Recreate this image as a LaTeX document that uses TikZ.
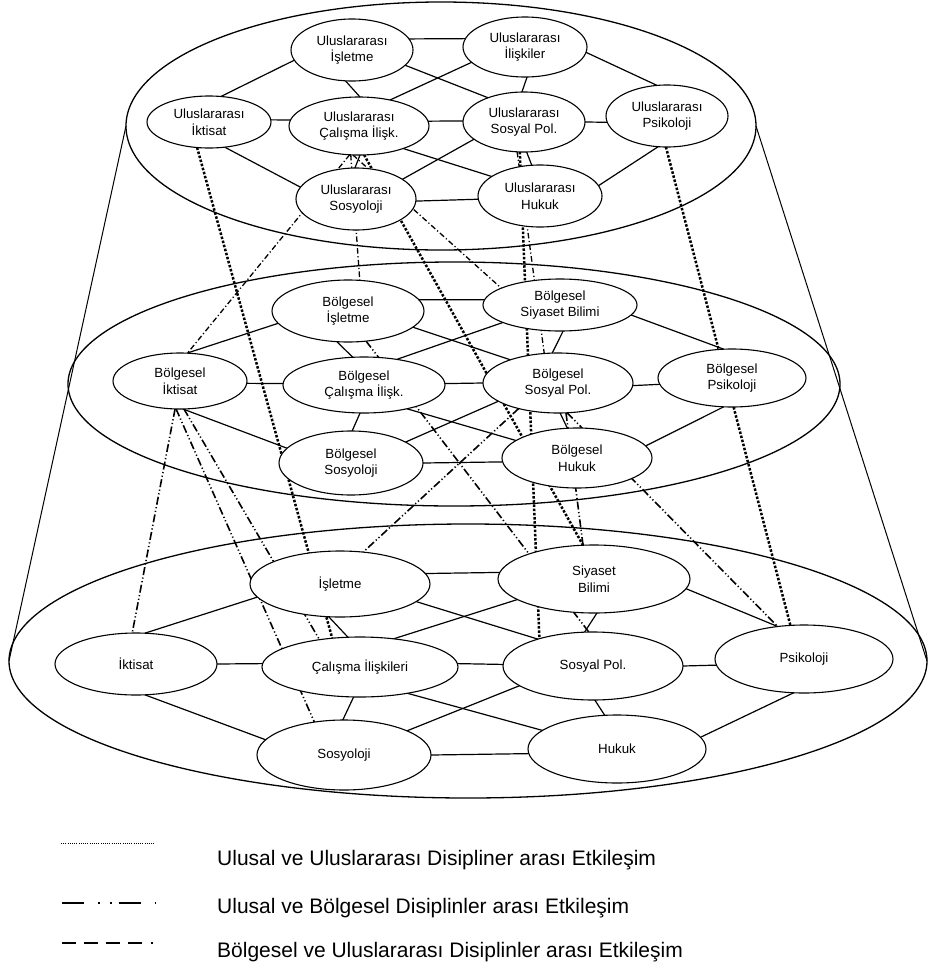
\documentclass[tikz,border=0pt]{standalone}
\usepackage{fontspec}
\setmainfont{Liberation Sans}
\usetikzlibrary{shapes.geometric,backgrounds}
\tikzset{
  disc/.style={draw, ellipse, fill=white, line width=1.1pt, inner sep=0pt, outer sep=0pt, align=center, font=\fontsize{13.3}{16.5}\selectfont},
  layer/.style={draw, ellipse, line width=1.3pt, inner sep=0pt, outer sep=0pt},
  cone/.style={line width=1pt},
  link/.style={line width=1.2pt},
  natint/.style={line width=2.5pt, dash pattern=on 2.5pt off 1.7pt},
  regint/.style={line width=1.3pt, dash pattern=on 5.5pt off 2.5pt on 1.2pt off 2.5pt},
  natreg/.style={line width=1.6pt, dash pattern=on 8pt off 2.5pt on 1.2pt off 2.5pt on 1.2pt off 2.5pt},
  legtext/.style={anchor=base west, inner sep=0pt, font=\fontsize{21}{25}\selectfont},
}
\begin{document}
\begin{tikzpicture}[x=1pt,y=-1pt]
\useasboundingbox (0,0) rectangle (928,967);
% layers
\node[layer, minimum width=630pt, minimum height=248pt] (topL) at (441,126) {};
\node[layer, minimum width=772pt, minimum height=244pt] (midL) at (454,384) {};
\node[layer, minimum width=918pt, minimum height=274pt] (botL) at (468,661) {};
\draw[cone] (topL.west) -- (botL.west);
\draw[cone] (topL.east) -- (botL.east);
% top layer
\node[disc, minimum width=122pt, minimum height=62pt] (ui) at (352,50) {Uluslararası\\İşletme};
\node[disc, minimum width=124pt, minimum height=60pt] (uil) at (525,47) {Uluslararası\\İlişkiler};
\node[disc, minimum width=124pt, minimum height=52pt] (uik) at (209,122) {Uluslararası\\İktisat};
\node[disc, minimum width=140pt, minimum height=58pt] (uc) at (359,126) {Uluslararası\\Çalışma İlişk.};
\node[disc, minimum width=122pt, minimum height=60pt] (usp) at (524,122) {Uluslararası\\Sosyal Pol.};
\node[disc, minimum width=122pt, minimum height=62pt] (ups) at (667,116) {Uluslararası\\Psikoloji};
\node[disc, minimum width=120pt, minimum height=62pt] (uso) at (356,199) {Uluslararası\\Sosyoloji};
\node[disc, minimum width=124pt, minimum height=62pt] (uh) at (540,196) {Uluslararası\\Hukuk};
% middle layer
\node[disc, minimum width=152pt, minimum height=62pt] (bi) at (348,311) {Bölgesel\\İşletme};
\node[disc, minimum width=154pt, minimum height=52pt] (bsb) at (560,305) {Bölgesel\\Siyaset Bilimi};
\node[disc, minimum width=134pt, minimum height=56pt] (bik) at (180,381) {Bölgesel\\İktisat};
\node[disc, minimum width=162pt, minimum height=56pt] (bc) at (364,385) {Bölgesel\\Çalışma İlişk.};
\node[disc, minimum width=150pt, minimum height=60pt] (bsp) at (558,383) {Bölgesel\\Sosyal Pol.};
\node[disc, minimum width=148pt, minimum height=58pt] (bps) at (732,378) {Bölgesel\\Psikoloji};
\node[disc, minimum width=144pt, minimum height=64pt] (bso) at (351,463) {Bölgesel\\Sosyoloji};
\node[disc, minimum width=150pt, minimum height=60pt] (bh) at (577,458) {Bölgesel\\Hukuk};
% bottom layer
\node[disc, minimum width=180pt, minimum height=66pt] (ni) at (340,584) {İşletme};
\node[disc, minimum width=192pt, minimum height=68pt] (nsb) at (594,579) {Siyaset\\Bilimi};
\node[disc, minimum width=162pt, minimum height=62pt] (nik) at (136,664) {İktisat};
\node[disc, minimum width=196pt, minimum height=60pt] (nc) at (360,667) {Çalışma İlişkileri};
\node[disc, minimum width=180pt, minimum height=68pt] (nsp) at (593,666) {Sosyal Pol.};
\node[disc, minimum width=178pt, minimum height=68pt] (nps) at (804,659) {Psikoloji};
\node[disc, minimum width=174pt, minimum height=70pt] (nso) at (344,755) {Sosyoloji};
\node[disc, minimum width=178pt, minimum height=68pt] (nh) at (617,749) {Hukuk};
% connectors behind the discipline nodes
\begin{scope}[on background layer]
% top layer links
\draw[link] (ui.11) -- (uil.172);
\draw[link] (ui.190) -- (uik.65);
\draw[link] (ui.258) -- (uc.88);
\draw[link] (ui.-16) -- (usp.146);
\draw[link] (uil.196) -- (uc.40);
\draw[link] (uil.-86) -- (usp.94);
\draw[link] (uil.-5) -- (ups.108);
\draw[link] (uik.2) -- (uc.175);
\draw[link] (uik.-58) -- (uso.168);
\draw[link] (uc.4) -- (usp.179);
\draw[link] (uc.-88) -- (uso.92);
\draw[link] (uc.-27) -- (uh.158);
\draw[link] (usp.199) -- (uso.23);
\draw[link] (usp.-85) -- (uh.105);
\draw[link] (usp.0) -- (ups.186);
\draw[link] (uso.-2) -- (uh.183);
\draw[link] (uh.10) -- (ups.254);
% middle layer links
\draw[link] (bi.9) -- (bsb.176);
\draw[link] (bi.190) -- (bik.76);
\draw[link] (bi.250) -- (bc.112);
\draw[link] (bi.-14) -- (bsp.154);
\draw[link] (bsb.197) -- (bc.38);
\draw[link] (bsb.-83) -- (bsp.101);
\draw[link] (bsb.-8) -- (bps.106);
\draw[link] (bik.-2) -- (bc.179);
\draw[link] (bik.-84) -- (bso.167);
\draw[link] (bc.1) -- (bsp.180);
\draw[link] (bc.262) -- (bso.88);
\draw[link] (bc.-29) -- (bh.164);
\draw[link] (bsp.197) -- (bso.21);
\draw[link] (bsp.-86) -- (bh.108);
\draw[link] (bsp.-2) -- (bps.185);
\draw[link] (bso.0) -- (bh.183);
\draw[link] (bh.10) -- (bps.254);
% bottom layer links
\draw[link] (ni.7) -- (nsb.176);
\draw[link] (ni.189) -- (nik.74);
\draw[link] (ni.251) -- (nc.112);
\draw[link] (ni.-13) -- (nsp.154);
\draw[link] (nsb.195) -- (nc.40);
\draw[link] (nsb.-85) -- (nsp.104);
\draw[link] (nsb.-6) -- (nps.129);
\draw[link] (nik.0) -- (nc.178);
\draw[link] (nik.-74) -- (nso.169);
\draw[link] (nc.2) -- (nsp.179);
\draw[link] (nc.258) -- (nso.92);
\draw[link] (nc.-29) -- (nh.166);
\draw[link] (nsp.195) -- (nso.21);
\draw[link] (nsp.-87) -- (nh.110);
\draw[link] (nsp.0) -- (nps.184);
\draw[link] (nso.0) -- (nh.183);
\draw[link] (nh.8) -- (nps.253);
% national - international
\draw[natint] (uik.245) -- (nc.134);
\draw[natint] (uc.-80) -- (nsb.108);
\draw[natint] (usp.262) -- (nsp.153);
\draw[natint] (ups.268) -- (nps.112);
% regional - international
\draw[regint] (uc.252) -- (bik.75);
\draw[regint] (uc.254) -- (bi.69);
\draw[regint] (uc.258) -- (bsb.164);
\draw[regint] (usp.257) -- (bsp.115);
% national - regional
\draw[natreg] (bik.260) -- (nik.97);
\draw[natreg] (bik.262) -- (nso.132);
\draw[natreg] (bik.278) -- (nc.146);
\draw[natreg] (bi.-59) -- (nsp.97);
\draw[natreg] (bsp.213) -- (ni.54);
\draw[natreg] (bsp.-75) -- (nsb.108);
\draw[natreg] (bsp.-73) -- (nps.129);
\end{scope}
% legend
\coordinate (la1) at (61,843); \coordinate (lb1) at (155,843);
\coordinate (la2) at (62,903); \coordinate (lb2) at (157,903);
\coordinate (la3) at (62,943); \coordinate (lb3) at (155,943);
\draw[line width=0.8pt, dash pattern=on 0.8pt off 1.4pt] (la1) -- (lb1);
\draw[line width=1.8pt, dash pattern=on 22pt off 14pt on 1.5pt off 10.5pt on 1.5pt off 7pt] (la2) -- (lb2);
\draw[line width=1.8pt, dash pattern=on 14pt off 8pt on 14pt off 8pt on 14pt off 8pt on 14pt off 9pt on 2pt off 10pt] (la3) -- (lb3);
\node[legtext] (lt1) at (217,865) {Ulusal ve Uluslararası Disipliner arası Etkileşim};
\node[legtext] (lt2) at (217,913) {Ulusal ve Bölgesel Disiplinler arası Etkileşim};
\node[legtext] (lt3) at (217,957) {Bölgesel ve Uluslararası Disiplinler arası Etkileşim};
\end{tikzpicture}
\end{document}
